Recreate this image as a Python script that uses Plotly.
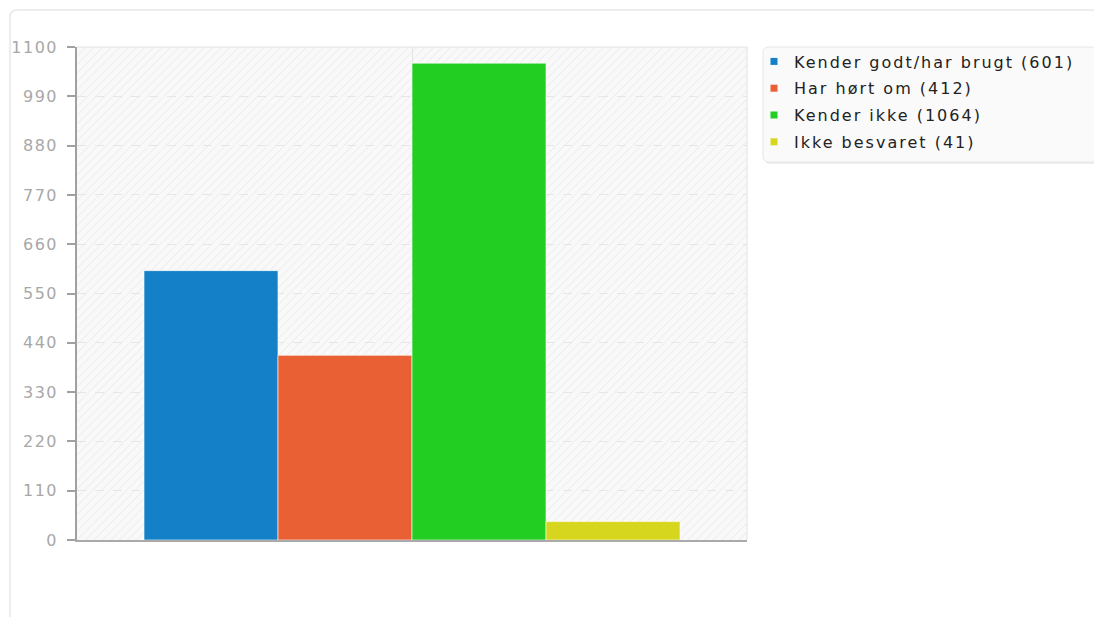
import base64
import plotly.graph_objects as go

# ---- data ----
categories = ["Kender godt/har brugt", "Har hørt om", "Kender ikke", "Ikke besvaret"]
values = [601, 412, 1064, 41]
colors = ["#1480c8", "#e86034", "#22ce22", "#d6d61e"]
y_ticks = [0, 110, 220, 330, 440, 550, 660, 770, 880, 990, 1100]

OFF = 8  # page body margin
W, H = 1102 - OFF, 617 - OFF
L, R, T, B = 77 - OFF, 747 - OFF, 47 - OFF, 540 - OFF  # plot area in figure pixels


def px(x):
    return (x - OFF - L) / (R - L)


def py(y):
    return (B - (y - OFF)) / (B - T)


fig = go.Figure()
for name, v, c in zip(categories, values, colors):
    fig.add_trace(go.Bar(
        x=[0], y=[v], name=f"{name} ({v})", marker_color=c,
        marker_line=dict(color="rgba(255,255,255,0.6)", width=1),
        showlegend=False, legendgroup=name, hoverinfo="y",
    ))
    fig.add_trace(go.Scatter(
        x=[None], y=[None], mode="markers", name=f"{name} ({v})",
        marker=dict(symbol="square", size=7, color=c),
        legendgroup=name, showlegend=True,
    ))

# hatched plot background
pw, ph = R - L, B - T
svg = (
    f'<svg xmlns="http://www.w3.org/2000/svg" width="{pw}" height="{ph}">'
    '<defs><pattern id="p" width="6" height="6" patternUnits="userSpaceOnUse" '
    'patternTransform="rotate(45)">'
    '<rect width="6" height="6" fill="#f9f9f9"/>'
    '<line x1="0" y1="0" x2="0" y2="6" stroke="#eeeeee" stroke-width="2"/>'
    '</pattern></defs>'
    f'<rect width="{pw}" height="{ph}" fill="url(#p)"/></svg>'
)
src = "data:image/svg+xml;base64," + base64.b64encode(svg.encode()).decode()
fig.add_layout_image(dict(source=src, xref="paper", yref="paper", x=0, y=1,
                          sizex=1, sizey=1, sizing="stretch", layer="below",
                          xanchor="left", yanchor="top"))


def rrect(x0, y0, x1, y1, r):
    # rounded rect path in paper coords from page pixel coords
    return (f"M {px(x0 + r)},{py(y0)} L {px(x1 - r)},{py(y0)} "
            f"Q {px(x1)},{py(y0)} {px(x1)},{py(y0 + r)} L {px(x1)},{py(y1 - r)} "
            f"Q {px(x1)},{py(y1)} {px(x1 - r)},{py(y1)} L {px(x0 + r)},{py(y1)} "
            f"Q {px(x0)},{py(y1)} {px(x0)},{py(y1 - r)} L {px(x0)},{py(y0 + r)} "
            f"Q {px(x0)},{py(y0)} {px(x0 + r)},{py(y0)} Z")


shapes = [
    # card
    dict(type="path", xref="paper", yref="paper", path=rrect(10, 10, 1130, 650, 7),
         line=dict(color="#e8e8e8", width=1.5), fillcolor="rgba(0,0,0,0)", layer="below"),
    # legend shadow
    dict(type="path", xref="paper", yref="paper", path=rrect(764.5, 48.5, 1099, 164, 6),
         line=dict(width=0), fillcolor="rgba(0,0,0,0.07)", layer="below"),
    # legend box
    dict(type="path", xref="paper", yref="paper", path=rrect(763, 47, 1097, 162, 6),
         line=dict(color="#e6e6e6", width=1), fillcolor="#fafafa", layer="below"),
    # top & right plot borders
    dict(type="line", xref="paper", yref="paper", x0=0, x1=1, y0=1, y1=1,
         line=dict(color="#e2e2e2", width=1)),
    dict(type="line", xref="paper", yref="paper", x0=1, x1=1, y0=0, y1=1,
         line=dict(color="#e2e2e2", width=1)),
]

fig.update_layout(
    width=W, height=H,
    margin=dict(l=L, r=W - R, t=T, b=H - B, autoexpand=False),
    paper_bgcolor="white", plot_bgcolor="rgba(0,0,0,0)",
    barmode="group", bargap=0.2, bargroupgap=0,
    shapes=shapes,
    font=dict(family="DejaVu Sans", size=14, color="#222"),
    legend=dict(x=px(754), y=py(44.5), xanchor="left", yanchor="top",
                bgcolor="rgba(0,0,0,0)", borderwidth=0,
                traceorder="grouped", tracegroupgap=3,
                font=dict(family="DejaVu Sans", size=16, color="#222"),
                itemwidth=30),
    xaxis=dict(range=[-0.5, 0.5], showticklabels=False, ticks="",
               showgrid=True, gridcolor="#e4e4e4", gridwidth=1,
               tickvals=[0], zeroline=False, automargin=False,
               showline=True, linecolor="#aaaaaa", linewidth=1.5),
    yaxis=dict(range=[0, 1100], tickvals=y_ticks, ticktext=[str(v) for v in y_ticks],
               showgrid=True, gridcolor="#e6e6e6", griddash="dash", gridwidth=1,
               zeroline=False, showline=True, linecolor="#a0a0a0", linewidth=1.5,
               ticks="outside", ticklen=8, tickcolor="#a0a0a0", tickwidth=1.5,
               ticklabelstandoff=6, automargin=False,
               tickfont=dict(family="DejaVu Sans", size=16, color="#a8a8a8")),
)

spacing_js = (
    "var gd=document.getElementById('{plot_id}');"
    "gd.querySelectorAll('.legend [clip-path]').forEach(function(e){e.removeAttribute('clip-path');});"
    "gd.querySelectorAll('.legendtext').forEach(function(t){t.style.letterSpacing='2px';});"
    "gd.querySelectorAll('.ytick text').forEach(function(t){t.style.letterSpacing='1.5px';});"
)
fig.write_html("out.html", post_script=spacing_js)
